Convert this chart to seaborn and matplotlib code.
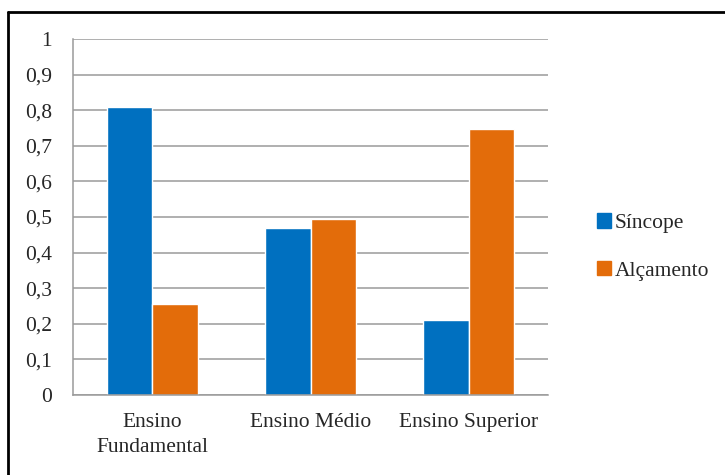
import pandas as pd
import seaborn as sns
import matplotlib.pyplot as plt
from matplotlib.lines import Line2D

# Data
categories = ['Ensino\nFundamental', 'Ensino Médio', 'Ensino Superior']
sincope = [0.81, 0.47, 0.21]
alcamento = [0.256, 0.495, 0.746]
series_names = ['Síncope', 'Alçamento']
y_ticks = [0, 0.1, 0.2, 0.3, 0.4, 0.5, 0.6, 0.7, 0.8, 0.9, 1]
y_tick_labels = ['0', '0,1', '0,2', '0,3', '0,4', '0,5', '0,6', '0,7', '0,8', '0,9', '1']

df = pd.DataFrame({
    'Categoria': categories * 2,
    'Serie': [series_names[0]] * 3 + [series_names[1]] * 3,
    'Valor': sincope + alcamento,
})

sns.set_style('white')
plt.rcParams['font.family'] = ['Liberation Serif', 'DejaVu Serif']

fig = plt.figure(figsize=(7.25, 4.75), dpi=100)
ax = fig.add_axes([0.1007, 0.1684, 0.6553, 0.7496])

palette = {'Síncope': '#0070C0', 'Alçamento': '#E36C0A'}
sns.barplot(data=df, x='Categoria', y='Valor', hue='Serie', palette=palette,
            width=0.575, gap=0, saturation=1, ax=ax, legend=False, zorder=2)

ax.set_ylim(0, 1)
ax.set_xlim(-0.5, 2.5)
ax.set_yticks(y_ticks)
ax.set_yticklabels(y_tick_labels)
ax.yaxis.grid(True, color='#9A9A9A', linewidth=1.1, zorder=0)
ax.set_axisbelow(True)
ax.set_xlabel('')
ax.set_ylabel('')
ax.tick_params(axis='y', length=0, pad=15, labelsize=15.5)
ax.tick_params(axis='x', length=0, pad=13, labelsize=15.5)
for lbl in ax.get_xticklabels():
    lbl.set_linespacing(1.45)

for side in ['top', 'right']:
    ax.spines[side].set_visible(False)
for side in ['left', 'bottom']:
    ax.spines[side].set_color('#9A9A9A')
    ax.spines[side].set_linewidth(1.1)

# Legend on the right, no frame
handles = [plt.Rectangle((0, 0), 1, 1, color=palette[s]) for s in series_names]
fig.legend(handles, series_names, loc='center left', bbox_to_anchor=(0.797, 0.48),
           frameon=False, fontsize=15.5, handlelength=0.65, handleheight=0.65,
           handletextpad=0.15, labelspacing=1.3)

# Thick black frame (top and left edges visible in the reference)
fig.add_artist(Line2D([8 / 725, 1], [1 - 12 / 475, 1 - 12 / 475], color='black',
                      linewidth=2.0, transform=fig.transFigure))
fig.add_artist(Line2D([8 / 725, 8 / 725], [0, 1 - 12 / 475], color='black',
                      linewidth=2.0, transform=fig.transFigure))

fig.savefig('out.png', dpi=100)
